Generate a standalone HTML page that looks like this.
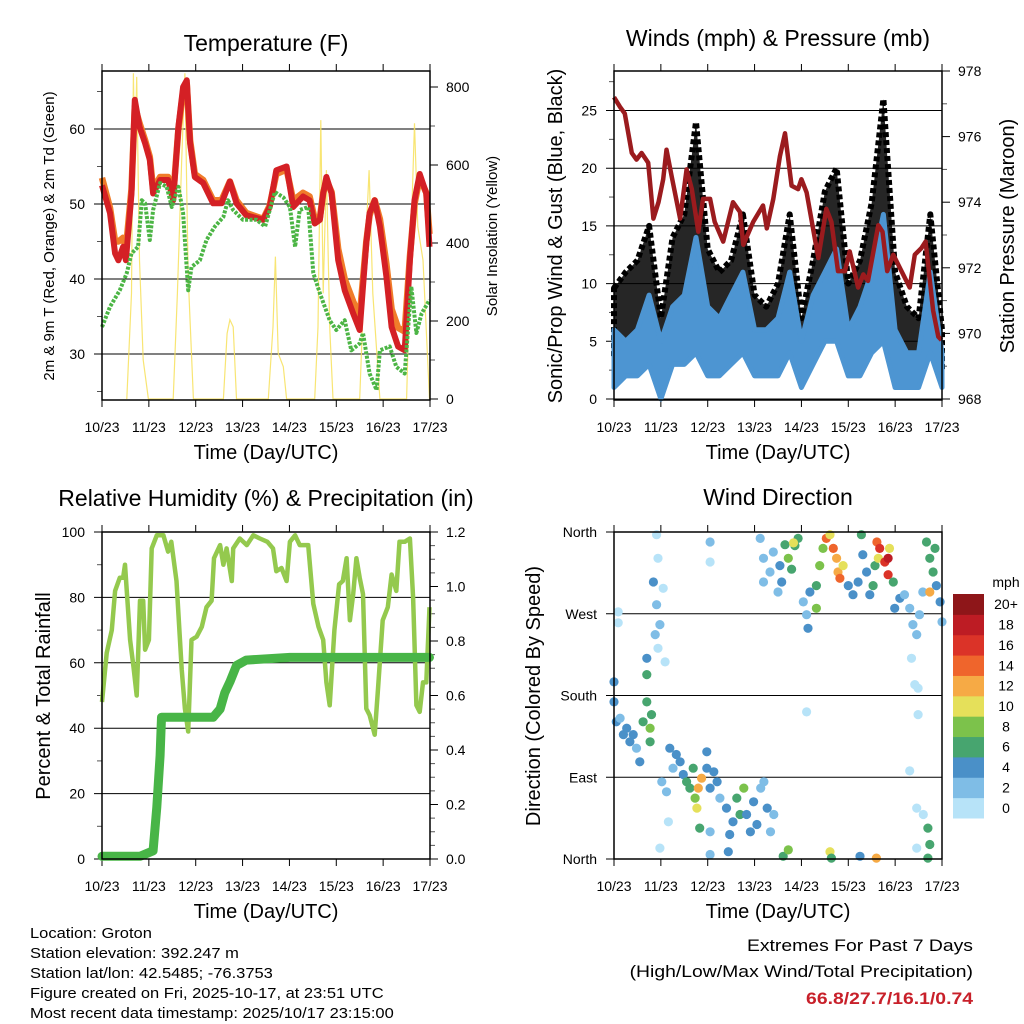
<!DOCTYPE html>
<html><head><meta charset="utf-8">
<style>
html,body{margin:0;padding:0;background:#fff;}
svg{display:block;font-family:"Liberation Sans",sans-serif;}
</style></head>
<body>
<svg id="fig" width="1024" height="1024" viewBox="0 0 1024 1024" xmlns="http://www.w3.org/2000/svg">
<rect width="1024" height="1024" fill="#fff"/>
<g id="root"></g>
<g font-size="15" transform="translate(30 0) scale(1.1 1)">
<text x="0" y="938">Location: Groton</text>
<text x="0" y="958">Station elevation: 392.247 m</text>
<text x="0" y="978">Station lat/lon: 42.5485; -76.3753</text>
<text x="0" y="998">Figure created on Fri, 2025-10-17, at 23:51 UTC</text>
<text x="0" y="1018">Most recent data timestamp: 2025/10/17 23:15:00</text>
</g>
<g font-size="17" text-anchor="end" transform="translate(973 0) scale(1.14 1)">
<text x="0" y="951">Extremes For Past 7 Days</text>
<text x="0" y="977">(High/Low/Max Wind/Total Precipitation)</text>
<text x="0" y="1004" font-weight="bold" fill="#c8202a">66.8/27.7/16.1/0.74</text>
</g>
</svg>
<script>
// ---------- data ----------
const dayLabels = ["10/23","11/23","12/23","13/23","14/23","15/23","16/23","17/23"];
const tT = [0,.17,.28,.35,.45,.51,.63,.70,.80,.92,1.02,1.09,1.24,1.41,1.52,1.63,1.73,1.81,1.88,1.98,2.16,2.37,2.55,2.73,2.87,3.08,3.44,3.58,3.72,3.94,4.08,4.29,4.43,4.54,4.65,4.72,4.79,4.90,5.04,5.18,5.36,5.50,5.64,5.71,5.82,5.93,6.07,6.18,6.32,6.46,6.57,6.67,6.78,6.92,6.99];
const temp2m = [52.5,48.8,43.4,42.5,44.3,42.5,51.4,63.9,60.3,58.1,55.9,51.4,53.2,53.2,50.5,60.3,65.6,66.5,58.1,53.6,52.8,50.1,50.1,53,50.1,48.5,47.9,49.6,54.5,55,49.6,51,50.5,47.4,47.9,51.4,53.6,51.4,42.5,38.5,35.4,33.2,44.8,48.8,50.5,47,40.3,33.6,31,30.5,42.5,50.5,54,51.4,44.3];
const temp9m = [53.5,49.5,45,45,45.5,44,52,63,60.8,58.5,56.3,52,53.6,53.6,51,60,65,66,58.5,54,53.2,50.5,50.5,53,50.5,48.8,48,49.8,54,54.6,50.5,51.5,51,48,48.2,51.5,53.2,51.6,44,40,37,35,45,48.5,50.5,48,42,36,33.5,33,43,50,53.5,51.5,46];
const tTd = [0,.17,.38,.53,.63,.77,.85,.92,1.02,1.09,1.24,1.38,1.49,1.63,1.73,1.84,1.91,2.09,2.23,2.41,2.59,2.69,2.80,3.01,3.30,3.48,3.69,3.87,4.01,4.12,4.22,4.40,4.51,4.65,4.86,5.00,5.18,5.32,5.50,5.57,5.71,5.86,5.93,6.14,6.28,6.46,6.60,6.71,6.82,6.99];
const dewpt = [33.6,36.3,38.5,40.8,43.4,44.3,50.5,50.1,45.2,49.2,52.8,52.3,49.6,52.3,48.8,38.5,41.6,42.5,45.2,47,48.3,50.5,49.2,47.9,47.9,47,51.6,50.9,49.6,44.3,49.2,49.6,40.8,38.1,34.5,33.2,34.5,30.5,31.4,32.8,27.4,25.2,30.5,31,28.3,27.4,39,32.8,35.4,37.2];
const tSol = [.53,.63,.67,.70,.74,.80,.88,.99, 1.52,1.61,1.70,1.77,1.81,1.84,1.95, 2.59,2.67,2.73,2.80,2.87, 3.55,3.65,3.70,3.76,3.87,3.94, 4.54,4.61,4.67,4.72,4.79,4.86,4.93, 5.50,5.61,5.70,5.78,5.93, 6.50,6.58,6.67,6.74,6.85,6.99];
const solar = [0,271,835,613,826,356,100,0, 0,271,613,835,527,314,0, 0,168,203,185,0, 0,185,365,117,83,0, 0,185,715,271,587,185,0, 0,356,587,271,0, 0,356,707,442,356,0];
const tP = [0,.13,.23,.38,.48,.59,.73,.84,.95,1.05,1.12,1.23,1.41,1.55,1.66,1.80,1.90,2.05,2.15,2.33,2.54,2.69,2.76,2.97,3.18,3.26,3.40,3.54,3.65,3.79,3.93,4.00,4.11,4.36,4.53,4.64,4.78,4.93,5.03,5.21,5.32,5.42,5.64,5.73,5.83,5.96,6.10,6.31,6.42,6.56,6.65,6.81,6.92,6.99];
const pressure = [977.2,976.9,976.7,975.5,975.3,975.5,975.2,973.5,974.0,974.7,975.6,974.8,973.5,975.0,974.4,973.1,974.1,974.1,973.4,972.8,974.0,973.7,972.7,973.4,973.9,973.2,974.1,975.4,976.1,974.5,974.4,974.7,974.3,972.3,973.8,973.4,971.9,971.9,972.5,971.4,971.8,971.6,973.3,973.1,971.9,972.4,972.0,971.4,972.4,972.6,972.8,970.7,969.9,969.8];
const tW = [0,.25,.5,.75,1,1.25,1.5,1.75,2,2.25,2.5,2.75,3,3.25,3.5,3.75,4,4.25,4.5,4.75,5,5.25,5.5,5.75,6,6.25,6.5,6.75,7];
const windLow = [1,2,2,3,0,3,3,4,2,2,3,4,2,2,2,4,1,3,5,5,2,2,4,5,1,1,1,4,1];
const windHigh = [6,5,6,9,5,8,9,14,8,7,9,11,6,6,7,11,5,9,11,13,6,8,11,16,6,4,4,11,4];
const gustHigh = [9.6,11,12,15,7,14,16,24,13,11,12,16,9,8,10,16,7,12,18,20,10,12,17,26,11,8,7,16,6];
const tRH = [0,.10,.21,.28,.38,.45,.49,.6,.67,.74,.81,.88,.92,1.0,1.06,1.17,1.31,1.41,1.48,1.59,1.70,1.77,1.84,1.91,2.02,2.13,2.23,2.34,2.39,2.52,2.59,2.66,2.77,2.80,2.94,3.09,3.23,3.37,3.53,3.65,3.72,3.83,3.94,4.01,4.12,4.22,4.40,4.51,4.62,4.72,4.79,4.86,4.96,5.06,5.14,5.22,5.29,5.36,5.43,5.50,5.57,5.64,5.71,5.82,5.89,5.99,6.10,6.18,6.28,6.35,6.46,6.57,6.64,6.71,6.78,6.85,6.92,6.99];
const rh = [48,63,70,82,86,86,90,67,59,50,79,79,64,67,95,99,99,94,97,85,58,46,39,67,68,71,77,79,92,96,90,95,85,95,98,96,99,98,97,95,88,89,85,97,99,96,96,78,71,67,54,47,70,84,85,92,73,81,92,86,81,46,44,38,52,73,77,87,82,97,97,98,80,47,45,54,54,77];
const tPr = [0,.81,1.09,1.17,1.24,1.27,1.38,2.37,2.52,2.62,2.73,2.87,3.08,4.01,6.99];
const precip = [0.01,0.01,0.03,0.19,0.38,0.52,0.52,0.52,0.55,0.61,0.65,0.71,0.73,0.74,0.74];
const dirDay = [0,0,.05,.13,.2,.27,.34,.41,.48,.55,.62,.7,.7,.77,.77,.8,.7, .91,.94,.84,1.05,.91,.98,.94,1.09,.88, 1.02,1.12,1.19,1.26,1.33,1.41,1.48,1.55,1.62,1.69,1.77,1.83,1.87,1.73,1.8,1.98,2.05,2.13,2.2,2.26,2.05,2.05,1.98,1.16,.98, 2.4,2.47,2.54,2.62,2.69,2.77,2.83,2.91,2.98,3.05,3.13,3.2,3.27,3.34,3.41,2.44, 3.12,3.19,3.33,3.4,3.54,3.58,3.65,3.72,3.79,3.86,3.93,3.83,3.5,3.19,3.61,3.72, 4.04,4.11,4.14,4.18,4.32,4.32,4.39,4.46,4.53,4.61,4.68,4.75,4.78,4.82,4.89,5.0,5.1,5.21,5.28,5.31,5.39,5.46,5.53,5.57,5.61,5.67,5.64,5.78,5.85,5.88,5.85,5.96,5.99,6.1,6.2,6.31,6.38,6.46,6.35,6.42,6.49,6.52,6.59,6.67,6.74,6.81,6.85,6.88,6.96,7.0,6.74, 4.61,4.64,5.25,5.6,4.11, 6.31,6.49,6.46,6.6,6.46,6.7,6.74,6.7,.09,.09,2.05,2.05];
const dirDeg = [195,173,151,155,137,144,129,137,122,107,151,173,203,144,129,159,221, 357,331,305,298,280,258,232,217,247, 85,74,122,100,115,107,93,85,78,100,56,34,89,67,78,100,78,96,85,67,30,5,118,41,12, 56,27,41,67,49,78,49,30,63,38,78,85,56,30,49,8, 353,331,316,338,323,305,346,331,319,345,353,348,294,305,3,10, 283,269,254,294,301,276,323,342,353,357,342,331,316,309,323,301,291,305,357,335,316,291,301,323,349,342,331,327,331,342,313,305,276,287,291,276,258,247,221,192,188,269,294,349,331,316,342,301,283,261,294, 8,1,3,1,162, 97,159,56,49,12,34,16,1,272,260,349,327];
const dirSpeed = [4,4,4,3,4,4,4,4,3,4,6,6,6,8,7,6,4, 1,1,4,1,2,2,1,1,2, 3,3,4,3,4,4,5,6,7,6,10,7,13,9,12,5,4,4,4,3,2,3,4,1,1, 4,4,5,6,6,8,5,4,4,4,3,3,4,2,3,4, 2,2,3,2,4,4,7,8,7,6,6,10,3,2,7,8, 3,2,4,4,6,8,8,9,14,10,15,12,13,14,10,5,4,4,6,4,4,4,6,6,14,16,11,16,18,10,16,6,4,4,3,3,2,2,1,1,1,2,2,7,7,6,6,4,4,3,13, 10,7,4,13,1, 1,1,1,1,1,7,7,7,1,1,3,1];
const speedClassLabels = ["0","2","4","6","8","10","12","14","16","18","20+"];
const speedColors = ["#b7e3f8","#7fbde6","#4a90c8","#47a56f","#7cc24b","#e5e05a","#f6aa45","#ef652c","#db3328","#bd1c24","#8e1619"];

// ---------- helpers ----------
const NS="http://www.w3.org/2000/svg";
const root=document.getElementById('root');
function mk(tag,attrs,parent){const e=document.createElementNS(NS,tag);for(const k in attrs)e.setAttribute(k,attrs[k]);(parent||root).appendChild(e);return e;}
function txt(s,attrs,parent){const e=mk('text',attrs,parent);e.textContent=s;return e;}
const X0=102,X1=430,DW=(X1-X0)/7;
function linePath(ts,vs,fx,fy){return ts.map((t,i)=>(i?'L':'M')+fx(t).toFixed(1)+','+fy(vs[i]).toFixed(1)).join('');}

function panel(name,xo,top,bot,title,titleY){
  const g=mk('g',{});
  
  
  const x0=X0+xo,x1=X1+xo;
  const fx=d=>x0+d*DW;
  const t=txt(title,{x:(x0+x1)/2,y:titleY,'font-size':23,'text-anchor':'middle'},g);
  
  
  for(let i=0;i<8;i++){
    const x=fx(i);
    mk('line',{x1:x,x2:x,y1:bot,y2:bot+7,stroke:'#000','stroke-width':1},g);
    mk('line',{x1:x,x2:x,y1:top,y2:top-7,stroke:'#000','stroke-width':1},g);
    const l=txt(dayLabels[i],{x:x,y:bot+32,'font-size':14,'text-anchor':'middle'},g);
    
    
  }
  const xt=txt('Time (Day/UTC)',{x:(x0+x1)/2,y:bot+59,'font-size':20,'text-anchor':'middle'},g);
  
  
  return {g,x0,x1,fx,top,bot};
}
function frame(p){mk('rect',{x:p.x0,y:p.top,width:p.x1-p.x0,height:p.bot-p.top,fill:'none',stroke:'#000','stroke-width':1.5},p.g);}
function yticks(p,vals,fy,labels,side,grid,minor){
  vals.forEach((v,i)=>{
    const y=fy(v);
    if(side==='left'){
      mk('line',{x1:p.x0-8,x2:grid?p.x1:p.x0,y1:y,y2:y,stroke:'#000','stroke-width':1},p.g);
      const l=txt(labels[i],{x:p.x0-17,y:y+5,'font-size':14,'text-anchor':'end'},p.g);
      
      
    } else {
      mk('line',{x1:p.x1,x2:p.x1+8,y1:y,y2:y,stroke:'#000','stroke-width':1},p.g);
      const l=txt(labels[i],{x:p.x1+16,y:y+5,'font-size':14},p.g);
      
      
    }
  });
  (minor||[]).forEach(v=>{const y=fy(v);
    if(side==='left')mk('line',{x1:p.x0-5,x2:p.x0,y1:y,y2:y,stroke:'#555','stroke-width':1},p.g);
    else mk('line',{x1:p.x1,x2:p.x1+5,y1:y,y2:y,stroke:'#555','stroke-width':1},p.g);});
}
function vtitle(p,s,x,y,size,name){
  const e=txt(s,{x:x,y:y,'font-size':size,'text-anchor':'middle',transform:`rotate(-90 ${x} ${y})`},p.g);
  
  
}

// ---------- Temperature ----------
{
 const p=panel('temperature-panel',0,71,400,'Temperature (F)',51);
 const fy=v=>354-(v-30)*7.5, fs=v=>399-v*0.39;
 yticks(p,[30,40,50,60],fy,["30","40","50","60"],'left',true,[25,35,45,55,65]);
 yticks(p,[0,200,400,600,800],fs,["0","200","400","600","800"],'right',false,[100,300,500,700]);
 const sol=mk('path',{d:linePath(tSol,solar,p.fx,fs),fill:'none',stroke:'#f7e15a','stroke-width':1.2,opacity:.85},p.g);
 
 
 const o=mk('path',{d:linePath(tT,temp9m,p.fx,fy),fill:'none',stroke:'#f07c2a','stroke-width':6.5,'stroke-linejoin':'round'},p.g);
 
 
 const r=mk('path',{d:linePath(tT,temp2m,p.fx,fy),fill:'none',stroke:'#d42025','stroke-width':6,'stroke-linejoin':'round'},p.g);
 
 
 const gr=mk('path',{d:linePath(tTd,dewpt,p.fx,fy),fill:'none',stroke:'#4cb545','stroke-width':4,'stroke-dasharray':'3 1.5','stroke-linejoin':'round'},p.g);
 
 
 frame(p);
 vtitle(p,'2m & 9m T (Red, Orange) & 2m Td (Green)',54,236,15,'y-axis-title');
 vtitle(p,'Solar Insolation (Yellow)',497,236,15,'y2-axis-title');
}
// ---------- Winds ----------
{
 const p=panel('winds-panel',512,71,400,'Winds (mph) & Pressure (mb)',46);
 const fy=v=>399-v*11.54, fp=v=>399-(v-968)*32.8;
 yticks(p,[0,5,10,15,20,25],fy,["0","5","10","15","20","25"],'left',true,[2.5,7.5,12.5,17.5,22.5,27.5]);
 yticks(p,[968,970,972,974,976,978],fp,["968","970","972","974","976","978"],'right',false,[969,971,973,975,977]);
 const top=tW.map((t,i)=>p.fx(t).toFixed(1)+','+fy(gustHigh[i]).toFixed(1)).join(' ');
 const mid=tW.map((t,i)=>p.fx(t).toFixed(1)+','+fy((windLow[i]+windHigh[i])/2).toFixed(1)).reverse().join(' ');
 const gb=mk('polygon',{points:top+' '+mid,fill:'#000','fill-opacity':0.85,stroke:'#000','stroke-width':6,'stroke-linejoin':'round','stroke-dasharray':'5 3'},p.g);
 
 
 const hi=tW.map((t,i)=>p.fx(t).toFixed(1)+','+fy(windHigh[i]).toFixed(1)).join(' ');
 const lo=tW.map((t,i)=>p.fx(t).toFixed(1)+','+fy(windLow[i]).toFixed(1)).reverse().join(' ');
 const wb=mk('polygon',{points:hi+' '+lo,fill:'#4d95d2',stroke:'#4d95d2','stroke-width':5,'stroke-linejoin':'round'},p.g);
 
 
 const pr=mk('path',{d:linePath(tP,pressure,p.fx,fp),fill:'none',stroke:'#9b1b1e','stroke-width':4.5,'stroke-linejoin':'round'},p.g);
 
 
 frame(p);
 vtitle(p,'Sonic/Prop Wind & Gust (Blue, Black)',562,236,20,'y-axis-title');
 vtitle(p,'Station Pressure (Maroon)',1014,236,20,'y2-axis-title');
}
// ---------- RH & Precip ----------
{
 const p=panel('humidity-panel',0,532,859,'Relative Humidity (%) & Precipitation (in)',506);
 const fy=v=>859-v*3.27, fr=v=>859-v*272.5;
 yticks(p,[0,20,40,60,80,100],fy,["0","20","40","60","80","100"],'left',true,[10,30,50,70,90]);
 yticks(p,[0,0.2,0.4,0.6,0.8,1.0,1.2],fr,["0.0","0.2","0.4","0.6","0.8","1.0","1.2"],'right',false,[.05,.1,.15,.25,.3,.35,.45,.5,.55,.65,.7,.75,.85,.9,.95,1.05,1.1,1.15]);
 const a=mk('path',{d:linePath(tRH,rh,p.fx,fy),fill:'none',stroke:'#94c94e','stroke-width':4.5,'stroke-linejoin':'round'},p.g);
 
 
 const b=mk('path',{d:linePath(tPr,precip,p.fx,fr),fill:'none',stroke:'#48b547','stroke-width':9,'stroke-linejoin':'round','stroke-linecap':'round'},p.g);
 
 
 frame(p);
 vtitle(p,'Percent & Total Rainfall',50,696,20,'y-axis-title');
}
// ---------- Wind direction ----------
{
 const p=panel('wind-direction-panel',512,532,859,'Wind Direction',505);
 const fy=v=>859-v/360*327;
 yticks(p,[0,90,180,270,360],fy,["North","East","South","West","North"],'left',true,[]);
 dirDay.forEach((d,i)=>{
  const c=mk('circle',{cx:p.fx(d).toFixed(1),cy:fy(dirDeg[i]).toFixed(1),r:4.6,fill:speedColors[Math.min(10,Math.floor(dirSpeed[i]/2))]},p.g);
  
  
 });
 frame(p);
 vtitle(p,'Direction (Colored By Speed)',540,696,20,'y-axis-title');
 const cb=mk('g',{},p.g);
 
 
 const bh=(818-594)/11;
 speedColors.forEach((c,i)=>{
  const y=818-(i+1)*bh;
  const r=mk('rect',{x:953,y:y,width:31,height:bh+0.5,fill:c},cb);
  
  
  const l=txt(speedClassLabels[i],{x:1006,y:y+bh/2+5,'font-size':14,'text-anchor':'middle'},cb);
  
  
 });
 const u=txt('mph',{x:1006,y:587,'font-size':14,'text-anchor':'middle'},cb);
 
 
}
</script>
</body></html>
